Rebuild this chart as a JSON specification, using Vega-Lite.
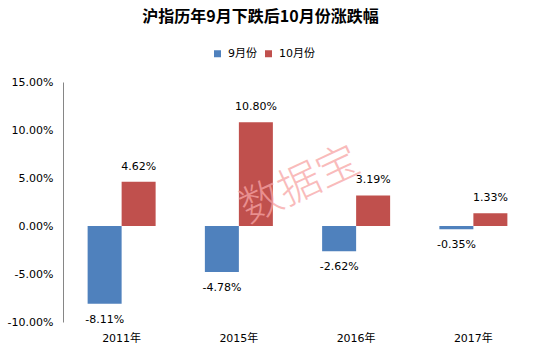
{
  "$schema": "https://vega.github.io/schema/vega-lite/v6.json",
  "width": 469,
  "height": 240,
  "autosize": {"type": "none"},
  "padding": {"left": 63, "top": 82, "right": 17, "bottom": 37},
  "background": "#ffffff",
  "title": {
    "text": "沪指历年9月下跌后10月份涨跌幅",
    "font": "Noto Sans CJK SC",
    "fontSize": 16,
    "fontWeight": "bold",
    "color": "#000000",
    "anchor": "middle",
    "frame": "group",
    "dx": -37,
    "baseline": "middle",
    "offset": 15
  },
  "config": {
    "view": {"stroke": null},
    "axis": {"labelFont": "DejaVu Sans, Noto Sans CJK SC", "labelFontSize": 11, "labelColor": "#000000"}
  },
  "datasets": {
    "bars": [
      {"year": "2011年", "month": "9月份", "value": -0.0811},
      {"year": "2011年", "month": "10月份", "value": 0.0462},
      {"year": "2015年", "month": "9月份", "value": -0.0478},
      {"year": "2015年", "month": "10月份", "value": 0.1080},
      {"year": "2016年", "month": "9月份", "value": -0.0262},
      {"year": "2016年", "month": "10月份", "value": 0.0319},
      {"year": "2017年", "month": "9月份", "value": -0.0035},
      {"year": "2017年", "month": "10月份", "value": 0.0133}
    ],
    "mark": [
      {"year": "2016年", "value": 0.07, "text": "数据宝"}
    ]
  },
  "layer": [
    {
      "data": {"name": "bars"},
      "mark": {"type": "bar"},
      "encoding": {
        "x": {
          "field": "year", "type": "nominal",
          "scale": {"paddingInner": 0.42, "paddingOuter": 0.21},
          "axis": {"title": null, "domain": false, "ticks": false, "labelAngle": 0, "labelPadding": 10}
        },
        "xOffset": {"field": "month", "type": "nominal", "scale": {"domain": ["9月份", "10月份"], "paddingInner": 0, "paddingOuter": 0}},
        "y": {
          "field": "value", "type": "quantitative",
          "scale": {"domain": [-0.1, 0.15], "nice": false, "zero": false},
          "axis": {"title": null, "labelExpr": "replace(format(datum.value, '.2%'), '\u2212', '-')", "values": [-0.1, -0.05, 0, 0.05, 0.1, 0.15], "grid": false, "ticks": false, "domainColor": "#868686", "labelPadding": 10}
        },
        "color": {
          "field": "month", "type": "nominal",
          "scale": {"domain": ["9月份", "10月份"], "range": ["#4F81BD", "#C0504D"]},
          "legend": {
            "title": null, "orient": "none", "legendX": 149, "legendY": -34, "direction": "horizontal",
            "symbolType": "square", "symbolSize": 49, "symbolStrokeWidth": 0, "labelFontSize": 11,
            "labelFont": "DejaVu Sans, Noto Sans CJK SC", "labelColor": "#000000", "labelOffset": 5, "columnPadding": 6
          }
        }
      }
    },
    {
      "mark": {"type": "rule", "color": "#868686", "strokeWidth": 1},
      "encoding": {"y": {"datum": 0, "type": "quantitative"}}
    },
    {
      "data": {"name": "bars"},
      "transform": [{"filter": "datum.value < 0"}],
      "mark": {"type": "text", "baseline": "middle", "dy": 16, "font": "DejaVu Sans", "fontSize": 11, "color": "#000000",
        "text": {"expr": "replace(format(datum.value, '.2%'), '\u2212', '-')"}},
      "encoding": {
        "x": {"field": "year", "type": "nominal"},
        "xOffset": {"field": "month", "type": "nominal"},
        "y": {"field": "value", "type": "quantitative"}
      }
    },
    {
      "data": {"name": "bars"},
      "transform": [{"filter": "datum.value >= 0"}],
      "mark": {"type": "text", "baseline": "middle", "dy": -15, "font": "DejaVu Sans", "fontSize": 11, "color": "#000000"},
      "encoding": {
        "x": {"field": "year", "type": "nominal"},
        "xOffset": {"field": "month", "type": "nominal"},
        "y": {"field": "value", "type": "quantitative"},
        "text": {"field": "value", "type": "quantitative", "format": ".2%"}
      }
    },
    {
      "data": {"name": "mark"},
      "mark": {"type": "text", "baseline": "middle", "align": "center", "angle": -25, "dx": -62, "font": "Noto Sans CJK SC", "fontSize": 42, "fontWeight": 300, "color": "#F7A5A5", "opacity": 0.75},
      "encoding": {
        "x": {"field": "year", "type": "nominal"},
        "y": {"field": "value", "type": "quantitative"},
        "text": {"field": "text", "type": "nominal"}
      }
    }
  ]
}
